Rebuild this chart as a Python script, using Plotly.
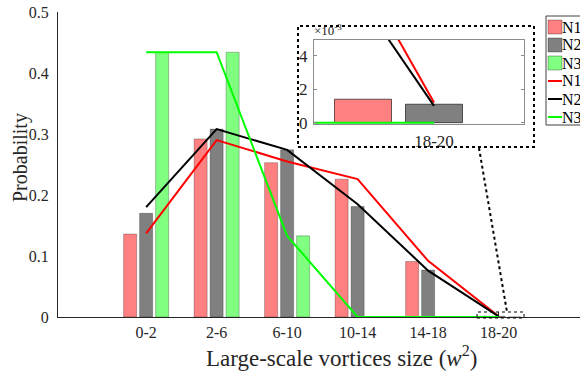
import plotly.graph_objects as go

# ---------------- data ----------------
categories = ["0-2", "2-6", "6-10", "10-14", "14-18", "18-20"]
bar_n1 = [0.136, 0.292, 0.253, 0.226, 0.091, 0.0014]
bar_n2 = [0.170, 0.308, 0.274, 0.181, 0.077, 0.0011]
bar_n3 = [0.434, 0.434, 0.133, 0.0, 0.0, 0.0]
line_n1 = [0.137, 0.290, 0.255, 0.226, 0.092, 0.0012]
line_n2 = [0.180, 0.308, 0.274, 0.185, 0.076, 0.0010]
line_n3 = [0.434, 0.434, 0.133, 0.0, 0.0, 0.0]
series_names = ["N1", "N2", "N3"]
y_ticks = [0, 0.1, 0.2, 0.3, 0.4, 0.5]
inset_y_ticks = [0, 0.002, 0.004]
inset_y_ticktext = ["0", "2", "4"]
x_title = "Large-scale vortices size (<i>w</i><sup>2</sup>)"
y_title = "Probability"

# ---------------- styles ----------------
FONT = "Liberation Serif, Times New Roman, serif"
bar_colors = ["#FF8080", "#808080", "#80FF80"]
line_colors = ["#FF0000", "#000000", "#00FF00"]
bar_width = 0.185
bar_offsets = [-0.227 - bar_width / 2, -bar_width / 2, 0.227 - bar_width / 2]

pos = list(range(1, len(categories) + 1))

# pixel geometry helpers (plot area 58..580 x 12..317)
L, R, T, B = 58, 580, 12, 317
W, H = R - L, B - T
def px(x):
    return (x - L) / W
def py(y):
    return (B - y) / H

fig = go.Figure()

bars = [bar_n1, bar_n2, bar_n3]
lines = [line_n1, line_n2, line_n3]

for i in range(3):
    fig.add_trace(go.Bar(
        x=pos, y=bars[i], name=series_names[i], width=bar_width, offset=bar_offsets[i],
        marker=dict(color=bar_colors[i], line=dict(color="rgba(0,0,0,0.25)", width=1)),
        showlegend=False, xaxis="x", yaxis="y"))
for i in range(3):
    fig.add_trace(go.Scatter(
        x=pos, y=lines[i], name=series_names[i], mode="lines",
        line=dict(color=line_colors[i], width=2), showlegend=False,
        xaxis="x", yaxis="y"))

# ---------------- inset (last category) ----------------
last = len(categories) - 1
inset_pxcat = 860.0
inset_bw = 57 / inset_pxcat
inset_offsets = [-71 / inset_pxcat - inset_bw / 2, -inset_bw / 2]
for i in range(2):
    fig.add_trace(go.Bar(
        x=[pos[last]], y=[bars[i][last]], width=inset_bw, offset=inset_offsets[i],
        marker=dict(color=bar_colors[i], line=dict(color="rgba(0,0,0,0.6)", width=1)),
        showlegend=False, xaxis="x3", yaxis="y3"))
for i in range(3):
    fig.add_trace(go.Scatter(
        x=pos[last - 1:], y=lines[i][last - 1:], mode="lines",
        line=dict(color=line_colors[i], width=2), showlegend=False,
        xaxis="x3", yaxis="y3"))

inset_left, inset_right, inset_top, inset_bot = 314, 524, 40, 124
x3_range = [pos[last] - (434 - inset_left) / inset_pxcat, pos[last] + (inset_right - 434) / inset_pxcat]

axis_font = dict(family=FONT, size=16, color="#262626")

fig.update_layout(
    width=580, height=373,
    margin=dict(l=L, r=580 - R, t=T, b=373 - B, autoexpand=False),
    paper_bgcolor="white", plot_bgcolor="white",
    barmode="overlay",
    font=dict(family=FONT, color="#262626"),
    xaxis=dict(
        range=[-0.25, -0.25 + W / 70.5], tickvals=pos, ticktext=categories,
        ticks="inside", ticklen=5, tickcolor="#262626", showgrid=False, zeroline=False,
        showline=True, linecolor="#262626", linewidth=1, tickfont=axis_font,
        ticklabelstandoff=1, layer="below traces",
    ),
    xaxis2=dict(
        overlaying="x", side="top", anchor="y", range=[0, W / 88.0],
        tickvals=[1, 2, 3, 4, 5], ticks="inside", ticklen=5, tickcolor="#262626",
        showticklabels=False, showgrid=False, zeroline=False,
        showline=True, linecolor="#262626", linewidth=1,
    ),
    yaxis=dict(
        range=[0, 0.5], tickvals=y_ticks, ticks="", showgrid=False, zeroline=False,
        showline=True, linecolor="#262626", linewidth=1, tickfont=axis_font,
        ticklabelstandoff=5, layer="below traces",
    ),
    xaxis3=dict(
        domain=[px(inset_left), px(inset_right)], anchor="y3", range=x3_range,
        tickvals=[pos[last]], ticktext=[categories[last]], ticks="", showgrid=False,
        zeroline=False, showline=True, mirror=True, linecolor="#8c8c8c", linewidth=1,
        tickfont=dict(family=FONT, size=17, color="#262626"), ticklabelstandoff=2,
    ),
    yaxis3=dict(
        domain=[py(inset_bot), py(inset_top)], anchor="x3", range=[-0.00008, 0.00493],
        tickvals=inset_y_ticks, ticktext=inset_y_ticktext, ticks="inside", ticklen=3,
        tickcolor="#8c8c8c", mirror="ticks", showgrid=False, zeroline=False,
        showline=True, linecolor="#8c8c8c", linewidth=1,
        tickfont=dict(family=FONT, size=17, color="#262626"), ticklabelstandoff=2,
    ),
)

shapes = []
# dashed box around inset
shapes.append(dict(type="rect", xref="paper", yref="paper", x0=px(298), x1=px(534),
                   y0=py(147), y1=py(26), line=dict(color="black", width=2, dash="dot"),
                   layer="above"))
# small dashed zoom rectangle in main plot
shapes.append(dict(type="rect", xref="paper", yref="paper", x0=px(477), x1=px(524),
                   y0=py(318), y1=py(312), line=dict(color="black", width=1, dash="dot"),
                   layer="above"))
# dotted connector
shapes.append(dict(type="line", xref="paper", yref="paper", x0=px(479), y0=py(148),
                   x1=px(507), y1=py(312), line=dict(color="black", width=2, dash="dot"),
                   layer="above"))
# legend box
shapes.append(dict(type="rect", xref="paper", yref="paper", x0=px(546), x1=px(600),
                   y0=py(125), y1=py(16), line=dict(color="#404040", width=1),
                   fillcolor="white", layer="above"))
annotations = []
entry_y = [27, 45, 63, 81, 99, 117]
for k in range(6):
    yc = entry_y[k]
    if k < 3:
        shapes.append(dict(type="rect", xref="paper", yref="paper", x0=px(548), x1=px(562),
                           y0=py(yc + 7), y1=py(yc - 7), fillcolor=bar_colors[k],
                           line=dict(color="rgba(0,0,0,0.3)", width=1), layer="above"))
    else:
        shapes.append(dict(type="line", xref="paper", yref="paper", x0=px(548), x1=px(562),
                           y0=py(yc), y1=py(yc), line=dict(color=line_colors[k - 3], width=2),
                           layer="above"))
    annotations.append(dict(xref="paper", yref="paper", x=px(561), y=py(yc),
                            xanchor="left", yanchor="middle", showarrow=False,
                            text=series_names[k % 3], borderpad=0,
                            font=dict(family=FONT, size=16, color="black")))
# x10^-3 label of inset
annotations.append(dict(xref="paper", yref="paper", x=px(312), y=py(40), xanchor="left",
                        yanchor="bottom", showarrow=False, text="×10<sup>-3</sup>",
                        font=dict(family=FONT, size=13, color="#262626")))
# axis titles
annotations.append(dict(xref="paper", yref="paper", x=px(341), y=py(356),
                        xanchor="center", yanchor="middle", showarrow=False, text=x_title,
                        font=dict(family=FONT, size=23, color="#262626")))
annotations.append(dict(xref="paper", yref="paper", x=px(20), y=py(158),
                        xanchor="center", yanchor="middle", showarrow=False, text=y_title,
                        textangle=-90, font=dict(family=FONT, size=20, color="#262626")))
fig.update_layout(shapes=shapes, annotations=annotations)

fig.write_html("out.html")
